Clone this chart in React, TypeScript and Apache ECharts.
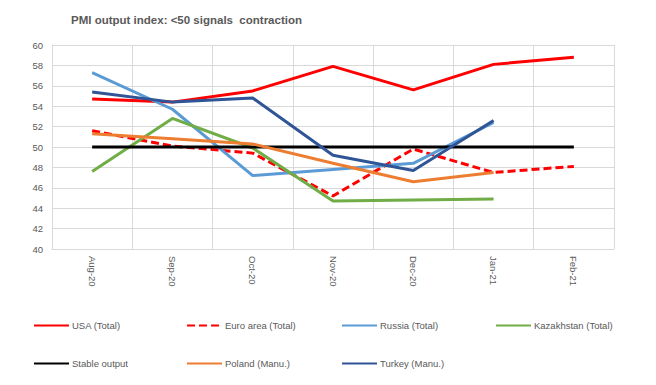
import React, { useEffect, useRef } from "react";
import * as echarts from "echarts";

const categories = ["Aug-20", "Sep-20", "Oct-20", "Nov-20", "Dec-20", "Jan-21", "Feb-21"];
const usa = [54.7, 54.4, 55.5, 57.9, 55.6, 58.1, 58.8];
const euro = [51.6, 50.1, 49.4, 45.2, 49.8, 47.5, 48.1];
const russia = [57.3, 53.7, 47.2, 47.8, 48.4, 52.4, null];
const kazakhstan = [47.6, 52.8, 49.9, 44.7, 44.8, 44.9, null];
const stable = [50, 50, 50, 50, 50, 50, 50];
const poland = [51.3, 50.8, 50.3, 48.4, 46.6, 47.5, null];
const turkey = [55.4, 54.4, 54.8, 49.2, 47.7, 52.6, null];

const seriesDefs = [
  { name: "USA (Total)", data: usa, color: "#FF0000", dash: "solid" as any },
  { name: "Euro area (Total)", data: euro, color: "#FF0000", dash: [8, 4] as any },
  { name: "Russia (Total)", data: russia, color: "#5B9BD5", dash: "solid" as any },
  { name: "Kazakhstan (Total)", data: kazakhstan, color: "#70AD47", dash: "solid" as any },
  { name: "Stable output", data: stable, color: "#000000", dash: "solid" as any },
  { name: "Poland (Manu.)", data: poland, color: "#ED7D31", dash: "solid" as any },
  { name: "Turkey (Manu.)", data: turkey, color: "#2F5597", dash: "solid" as any },
];

const legendPos = [
  { left: 33, top: 320 },
  { left: 186, top: 320 },
  { left: 341, top: 320 },
  { left: 495, top: 320 },
  { left: 33, top: 358 },
  { left: 186, top: 358 },
  { left: 341, top: 358 },
];

const FONT = "'Liberation Sans', Arial, sans-serif";

export default function App() {
  const ref = useRef<HTMLDivElement>(null);
  useEffect(() => {
    if (!ref.current) return;
    const chart = echarts.init(ref.current, undefined, { renderer: "svg" });
    chart.setOption({
      animation: false,
      backgroundColor: "#ffffff",
      title: {
        text: "PMI output index: <50 signals  contraction",
        left: 66,
        top: 9,
        textStyle: { fontFamily: FONT, fontSize: 11.5, fontWeight: "bold", color: "#595959" },
      },
      grid: { left: 52, right: 42, top: 45, bottom: 136, containLabel: false },
      legend: seriesDefs.map((s, i) => ({
        data: [s.name],
        left: legendPos[i].left,
        top: legendPos[i].top,
        padding: 0,
        orient: "horizontal",
        itemWidth: 35,
        itemHeight: 14,
        selectedMode: false,
        itemStyle: { color: "rgba(0,0,0,0)", borderWidth: 0, opacity: 0 },
        textStyle: { fontFamily: FONT, fontSize: 9.5, color: "#595959", padding: [0, 0, 0, -2] },
      })),
      xAxis: {
        type: "category",
        data: categories,
        boundaryGap: true,
        axisLine: { lineStyle: { color: "#D9D9D9", width: 1 } },
        axisTick: { show: false },
        splitLine: { show: true, lineStyle: { color: "#D9D9D9", width: 1 } },
        axisLabel: { rotate: -90, margin: 7, fontFamily: FONT, fontSize: 9.5, color: "#595959" },
      },
      yAxis: {
        type: "value",
        min: 40,
        max: 60,
        interval: 2,
        axisLine: { show: true, lineStyle: { color: "#D9D9D9" } },
        axisTick: { show: false },
        splitLine: { lineStyle: { color: "#D9D9D9", width: 1 } },
        axisLabel: { margin: 9, fontFamily: FONT, fontSize: 9.5, color: "#595959" },
      },
      series: seriesDefs.map((s) => ({
        name: s.name,
        type: "line",
        data: s.data,
        symbol: "none",
        color: s.color,
        lineStyle: { color: s.color, width: 3, type: s.dash, cap: "butt" },
        itemStyle: { color: s.color },
      })),
    });
    return () => chart.dispose();
  }, []);
  return (
    <div
      ref={ref}
      style={{ position: "absolute", left: 0, top: 0, width: 656, height: 385 }}
    />
  );
}
